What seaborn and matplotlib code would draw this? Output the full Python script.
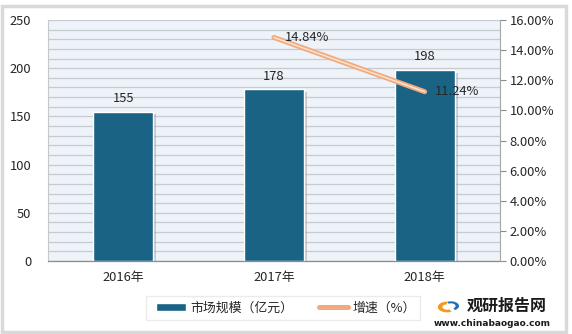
import matplotlib
matplotlib.use("Agg")
import matplotlib.pyplot as plt
import matplotlib.patheffects as pe
from matplotlib.patches import Rectangle, FancyBboxPatch, Wedge
from matplotlib.lines import Line2D
from matplotlib.ticker import MultipleLocator, FuncFormatter
import seaborn as sns
import pandas as pd

categories = ["2016年", "2017年", "2018年"]
market_size = [155, 178, 198]
growth_years = ["2017年", "2018年"]
growth_rate = [14.84, 11.24]
bar_label = "市场规模（亿元）"
line_label = "增速（%）"

sns.set_theme(style="white")
plt.rcParams["font.family"] = ["Noto Sans CJK SC", "DejaVu Sans"]
plt.rcParams["axes.unicode_minus"] = False

BAR = "#1B6385"
TXT = "#262626"
FS = 9.3

fig = plt.figure(figsize=(5.72, 3.34), dpi=100)
fig.patch.set_facecolor("white")
fig.add_artist(Rectangle((0.004, 0.006), 0.985, 0.975, transform=fig.transFigure,
                         fill=False, edgecolor="#D9D9D9", lw=2.5))

ax = fig.add_axes([48/572, 1-261/334, (500-48)/572, (261-20)/334])
ax.set_facecolor("#EDF3F9")

df = pd.DataFrame({"year": categories, "size": market_size})
sns.barplot(data=df, x="year", y="size", ax=ax, color=BAR, width=0.4,
            saturation=1, edgecolor="white", linewidth=1.0, zorder=3)
for p in ax.patches:
    p.set_path_effects([pe.SimplePatchShadow(offset=(2, -2), shadow_rgbFace="#7F7F7F", alpha=0.35),
                        pe.Normal()])

ax.set_ylim(0, 250)
ax.yaxis.set_major_locator(MultipleLocator(50))
ax.yaxis.set_minor_locator(MultipleLocator(10))
ax.grid(axis="y", which="both", color="#C5CBD1", lw=0.9, zorder=0)
ax.set_axisbelow(True)
ax.set_xlim(-0.5, 2.5)
ax.set_xlabel("")
ax.set_ylabel("")
ax.tick_params(axis="y", which="both", length=0, labelsize=FS, labelcolor=TXT, pad=12)
ax.tick_params(axis="x", length=0, labelsize=FS, labelcolor=TXT, pad=7)
for s in ["top", "right"]:
    ax.spines[s].set_visible(False)
ax.spines["left"].set_color("#C8C8C8")
ax.spines["left"].set_linewidth(0.8)
ax.spines["bottom"].set_color("#8C8C8C")
ax.spines["bottom"].set_linewidth(0.9)

for i, v in enumerate(market_size):
    ax.text(i, v + 7, f"{v}", ha="center", va="bottom", fontsize=FS, color=TXT)

ax2 = ax.twinx()
ax2.set_ylim(0, 16)
ax2.yaxis.set_major_locator(MultipleLocator(2))
ax2.yaxis.set_major_formatter(FuncFormatter(lambda v, _: f"{v:.2f}%"))
ax2.tick_params(axis="y", length=4, width=0.8, color="#8C8C8C", labelsize=FS, labelcolor=TXT, pad=3)
for s in ["top", "left", "bottom"]:
    ax2.spines[s].set_visible(False)
ax2.spines["right"].set_color("#A6A6A6")
ax2.spines["right"].set_linewidth(0.8)
ax2.grid(False)

xi = [categories.index(y) for y in growth_years]
ldf = pd.DataFrame({"x": xi, "g": growth_rate})
sns.lineplot(data=ldf, x="x", y="g", ax=ax2, color="#F2A97C", lw=3.6, zorder=5)
sns.lineplot(data=ldf, x="x", y="g", ax=ax2, color="#FCE3CF", lw=1.1, zorder=6)
ax2.set_xlim(-0.5, 2.5)
ax2.set_xlabel("")
ax2.set_ylabel("")
for x, g in zip(xi, growth_rate):
    ax2.text(x + 0.07, g, f"{g:.2f}%", ha="left", va="center", fontsize=FS, color=TXT, zorder=7)

# legend
fig.add_artist(FancyBboxPatch((146/572, 1-320/334), (420-146)/572, 24/334,
                              boxstyle="square,pad=0", transform=fig.transFigure,
                              facecolor="white", edgecolor="#EBEBEB", lw=1.0,
                              path_effects=[pe.SimplePatchShadow(offset=(1, -1), alpha=0.12), pe.Normal()]))
handles = [Rectangle((0, 0), 1, 1, facecolor=BAR),
           Line2D([0], [0], color="#F2A97C", lw=3.6)]
leg = fig.legend(handles, [bar_label, line_label], loc="center",
                 bbox_to_anchor=(286/572, 1-308/334), ncol=2, frameon=False,
                 fontsize=FS, handlelength=2.3, handleheight=0.5, columnspacing=2.0,
                 handletextpad=0.3)
for t in leg.get_texts():
    t.set_color(TXT)

# watermark logo
fig.text(507/572, 1-306/334, "观研报告网", ha="center", va="center", fontsize=11.5,
         fontweight="bold", color="#1A1A1A")
fig.text(492/572, 1-323/334, "www.chinabaogao.com", ha="center", va="center",
         fontsize=6.5, fontweight="bold", color="#1A1A1A", family=["DejaVu Sans"])
fig.add_artist(Wedge((447/572, 1-307/334), 0.016, 90, 300,
                     width=0.008, transform=fig.transFigure,
                     facecolor="#F39A1E", edgecolor="none"))
fig.add_artist(Wedge((451/572, 1-306/334), 0.014, -60, 120,
                     width=0.006, transform=fig.transFigure,
                     facecolor="#1E6FB6", edgecolor="none"))

fig.savefig("out.png", dpi=100, facecolor="white")
